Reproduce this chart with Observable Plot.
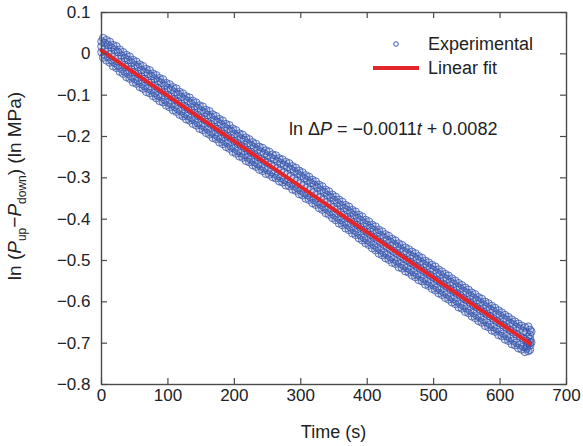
<!DOCTYPE html>
<html>
<head>
<meta charset="utf-8">
<script src="https://cdn.jsdelivr.net/npm/d3@7"></script>
<script src="https://cdn.jsdelivr.net/npm/@observablehq/plot@0.6"></script>
<style>
  html, body { margin: 0; padding: 0; background: #fff; }
  #chart { width: 583px; height: 446px; }
</style>
</head>
<body>
<div id="chart"></div>
<script>
// ---- data ----
const timeS = [0,5,10,15,20,25,30,35,40,45,50,55,60,65,70,75,80,85,90,95,100,105,110,115,120,125,130,135,140,145,150,155,160,165,170,175,180,185,190,195,200,205,210,215,220,225,230,235,240,245,250,255,260,265,270,275,280,285,290,295,300,305,310,315,320,325,330,335,340,345,350,355,360,365,370,375,380,385,390,395,400,405,410,415,420,425,430,435,440,445,450,455,460,465,470,475,480,485,490,495,500,505,510,515,520,525,530,535,540,545,550,555,560,565,570,575,580,585,590,595,600,605,610,615,620,625,630,635,640,645];
const lnUpper = [.030,.026,.021,.015,.010,.004,-.004,-.010,-.015,-.021,-.028,-.032,-.039,-.044,-.048,-.054,-.060,-.066,-.070,-.077,-.083,-.087,-.093,-.098,-.104,-.110,-.114,-.120,-.127,-.131,-.137,-.142,-.148,-.153,-.160,-.165,-.170,-.177,-.182,-.187,-.194,-.199,-.205,-.209,-.216,-.221,-.226,-.232,-.237,-.241,-.246,-.251,-.255,-.260,-.265,-.269,-.274,-.279,-.284,-.290,-.295,-.301,-.306,-.312,-.317,-.323,-.330,-.335,-.342,-.347,-.354,-.360,-.366,-.373,-.378,-.384,-.390,-.397,-.402,-.409,-.414,-.421,-.426,-.432,-.439,-.444,-.450,-.455,-.461,-.466,-.471,-.477,-.481,-.487,-.491,-.497,-.502,-.508,-.513,-.519,-.523,-.530,-.534,-.541,-.545,-.552,-.556,-.563,-.567,-.574,-.578,-.585,-.590,-.596,-.601,-.607,-.612,-.618,-.622,-.629,-.633,-.640,-.644,-.651,-.655,-.661,-.665,-.671,-.674,-.668];
const lnMid = [.018,.012,.006,.000,-.007,-.012,-.020,-.027,-.031,-.038,-.044,-.049,-.055,-.061,-.066,-.070,-.077,-.083,-.088,-.093,-.100,-.104,-.110,-.116,-.121,-.127,-.132,-.137,-.143,-.149,-.155,-.159,-.165,-.171,-.177,-.182,-.188,-.194,-.199,-.205,-.211,-.217,-.222,-.227,-.233,-.238,-.244,-.249,-.254,-.259,-.263,-.268,-.272,-.277,-.282,-.287,-.291,-.296,-.302,-.307,-.313,-.318,-.324,-.329,-.335,-.341,-.347,-.353,-.359,-.365,-.371,-.377,-.384,-.390,-.396,-.401,-.408,-.414,-.420,-.426,-.432,-.438,-.444,-.450,-.456,-.462,-.467,-.473,-.478,-.483,-.489,-.494,-.499,-.504,-.509,-.515,-.520,-.525,-.531,-.536,-.541,-.547,-.552,-.558,-.563,-.569,-.574,-.580,-.585,-.591,-.596,-.602,-.608,-.613,-.619,-.624,-.630,-.635,-.641,-.646,-.652,-.657,-.663,-.668,-.674,-.679,-.684,-.689,-.694,-.698];
const lnLower = [.004,-.002,-.008,-.016,-.022,-.029,-.036,-.043,-.048,-.055,-.061,-.066,-.073,-.078,-.084,-.088,-.095,-.101,-.105,-.111,-.118,-.122,-.128,-.134,-.139,-.145,-.150,-.155,-.161,-.167,-.173,-.177,-.183,-.190,-.195,-.200,-.206,-.212,-.217,-.224,-.229,-.235,-.240,-.245,-.251,-.256,-.262,-.267,-.272,-.277,-.281,-.286,-.290,-.295,-.300,-.305,-.309,-.314,-.320,-.325,-.331,-.336,-.342,-.347,-.353,-.359,-.365,-.371,-.377,-.383,-.390,-.396,-.402,-.408,-.414,-.420,-.427,-.432,-.439,-.445,-.451,-.456,-.463,-.469,-.475,-.481,-.486,-.492,-.497,-.502,-.508,-.513,-.518,-.523,-.528,-.534,-.539,-.544,-.550,-.555,-.560,-.566,-.571,-.577,-.582,-.588,-.593,-.599,-.605,-.610,-.616,-.621,-.627,-.633,-.638,-.644,-.650,-.655,-.661,-.666,-.672,-.677,-.683,-.688,-.694,-.699,-.704,-.709,-.713,-.716];
const timeHalf = [2.5,7.5,12.5,17.5,22.5,27.5,32.5,37.5,42.5,47.5,52.5,57.5,62.5,67.5,72.5,77.5,82.5,87.5,92.5,97.5,102.5,107.5,112.5,117.5,122.5,127.5,132.5,137.5,142.5,147.5,152.5,157.5,162.5,167.5,172.5,177.5,182.5,187.5,192.5,197.5,202.5,207.5,212.5,217.5,222.5,227.5,232.5,237.5,242.5,247.5,252.5,257.5,262.5,267.5,272.5,277.5,282.5,287.5,292.5,297.5,302.5,307.5,312.5,317.5,322.5,327.5,332.5,337.5,342.5,347.5,352.5,357.5,362.5,367.5,372.5,377.5,382.5,387.5,392.5,397.5,402.5,407.5,412.5,417.5,422.5,427.5,432.5,437.5,442.5,447.5,452.5,457.5,462.5,467.5,472.5,477.5,482.5,487.5,492.5,497.5,502.5,507.5,512.5,517.5,522.5,527.5,532.5,537.5,542.5,547.5,552.5,557.5,562.5,567.5,572.5,577.5,582.5,587.5,592.5,597.5,602.5,607.5,612.5,617.5,622.5,627.5,632.5,637.5,642.5];
const lnOuterUp = [.038,.033,.029,.021,.018,.010,.004,-.003,-.007,-.015,-.019,-.026,-.030,-.037,-.040,-.048,-.052,-.059,-.062,-.071,-.074,-.081,-.084,-.092,-.096,-.103,-.106,-.114,-.118,-.125,-.128,-.136,-.139,-.147,-.151,-.158,-.162,-.170,-.173,-.181,-.185,-.193,-.196,-.203,-.207,-.214,-.218,-.225,-.228,-.234,-.237,-.244,-.246,-.253,-.256,-.262,-.265,-.272,-.276,-.283,-.287,-.294,-.298,-.305,-.309,-.317,-.321,-.329,-.333,-.341,-.346,-.353,-.358,-.366,-.370,-.378,-.382,-.390,-.394,-.402,-.406,-.414,-.418,-.426,-.430,-.437,-.441,-.448,-.452,-.459,-.463,-.469,-.473,-.479,-.483,-.490,-.494,-.501,-.505,-.511,-.515,-.522,-.527,-.533,-.537,-.544,-.549,-.555,-.560,-.566,-.571,-.578,-.582,-.589,-.593,-.600,-.604,-.610,-.615,-.621,-.626,-.632,-.637,-.643,-.648,-.653,-.658,-.662,-.660];
const lnOuterLow = [-.009,-.016,-.021,-.030,-.034,-.043,-.048,-.056,-.060,-.069,-.072,-.080,-.084,-.092,-.095,-.102,-.107,-.114,-.117,-.125,-.129,-.136,-.140,-.147,-.151,-.158,-.161,-.169,-.173,-.181,-.184,-.191,-.195,-.203,-.206,-.214,-.218,-.225,-.229,-.237,-.241,-.248,-.251,-.259,-.262,-.269,-.273,-.280,-.283,-.290,-.292,-.298,-.301,-.308,-.311,-.318,-.320,-.328,-.331,-.339,-.342,-.350,-.353,-.361,-.365,-.373,-.377,-.385,-.389,-.397,-.402,-.410,-.414,-.422,-.426,-.434,-.438,-.446,-.451,-.458,-.462,-.470,-.475,-.483,-.487,-.494,-.498,-.505,-.508,-.516,-.519,-.526,-.529,-.536,-.540,-.547,-.550,-.558,-.561,-.568,-.572,-.579,-.583,-.590,-.594,-.601,-.605,-.613,-.616,-.624,-.627,-.635,-.639,-.646,-.650,-.658,-.661,-.669,-.672,-.680,-.683,-.691,-.694,-.702,-.705,-.712,-.715,-.721,-.719];
const endTimes = [645,645,645,642,642,640,647,647];
const endValues = [-0.680,-0.690,-0.705,-0.700,-0.685,-0.708,-0.672,-0.698];
const fitTimes = [0, 645];
const fitValues = [0.0082, -0.7013];
const xTicks = [0,100,200,300,400,500,600,700];
const yTicks = [0.1,0,-0.1,-0.2,-0.3,-0.4,-0.5,-0.6,-0.7,-0.8];

// ---- build ----
const pts = [];
timeS.forEach((t,i)=>{
  pts.push({t, v: lnUpper[i]});
  pts.push({t, v: lnMid[i]});
  pts.push({t, v: lnLower[i]});
});
timeHalf.forEach((t,i)=>{
  pts.push({t, v: lnOuterUp[i]});
  pts.push({t, v: lnOuterLow[i]});
});
endTimes.forEach((t,i)=>pts.push({t, v: endValues[i]}));
const fit = fitTimes.map((t,i)=>({t, v: fitValues[i]}));

const W = 583, H = 446, mL = 101, mR = 17, mT = 12, mB = 62;
const pw = W - mL - mR, ph = H - mT - mB;
const frameColor = "#4a4a4a";
const blue = "#3553ad";
const red = "#e4252a";
const font = "'Liberation Sans', Arial, sans-serif";
const fmtY = d => d === 0 ? "0" : d3.format(".1f")(d).replace("-", "\u2212");

const svg = Plot.plot({
  width: W, height: H,
  marginLeft: mL, marginRight: mR, marginTop: mT, marginBottom: mB,
  style: {fontFamily: font, fontSize: "17px", color: "#222", background: "#fff"},
  x: {domain: [0, 700]},
  y: {domain: [-0.8, 0.1]},
  marks: [
    Plot.dot(pts, {x: "t", y: "v", r: 3.8, stroke: blue, strokeWidth: 0.9, strokeOpacity: 0.85, fill: blue, fillOpacity: 0.14}),
    Plot.line(fit, {x: "t", y: "v", stroke: red, strokeWidth: 4}),
    Plot.frame({stroke: frameColor, strokeWidth: 1.4}),
    Plot.tickY(yTicks, {y: d => d, insetRight: pw - 6, stroke: frameColor, strokeWidth: 1.2}),
    Plot.tickY(yTicks, {y: d => d, insetLeft: pw - 6, stroke: frameColor, strokeWidth: 1.2}),
    Plot.tickX(xTicks, {x: d => d, insetTop: ph - 6, stroke: frameColor, strokeWidth: 1.2}),
    Plot.tickX(xTicks, {x: d => d, insetBottom: ph - 6, stroke: frameColor, strokeWidth: 1.2}),
    Plot.axisX({ticks: xTicks, tickSize: 0, tickPadding: 4, label: null, tickFormat: d => String(d)}),
    Plot.axisY({ticks: yTicks, tickSize: 0, tickPadding: 11, label: null, tickFormat: fmtY})
  ]
});

const s = d3.select(svg);
const g = s.append("g").attr("font-family", font).attr("fill", "#222").attr("text-anchor", "start");

// x label
g.append("text").attr("x", mL + pw / 2).attr("y", 438).attr("text-anchor", "middle")
  .attr("font-size", 18).text("Time (s)");

// y label
const yl = g.append("text").attr("transform", "translate(21,186) rotate(-90)")
  .attr("text-anchor", "middle").attr("font-size", 19);
yl.append("tspan").text("ln (");
yl.append("tspan").attr("font-style", "italic").text("P");
yl.append("tspan").attr("font-size", 12).attr("dy", 5).text("up");
yl.append("tspan").attr("dy", -5).text("\u2212");
yl.append("tspan").attr("font-style", "italic").text("P");
yl.append("tspan").attr("font-size", 12).attr("dy", 5).text("down");
yl.append("tspan").attr("dy", -5).text(") (ln MPa)");

// legend
g.append("circle").attr("cx", 396).attr("cy", 44).attr("r", 2.3)
  .attr("fill", "none").attr("stroke", blue).attr("stroke-width", 1);
g.append("text").attr("x", 428).attr("y", 50).attr("font-size", 18).text("Experimental");
g.append("line").attr("x1", 373).attr("x2", 419).attr("y1", 68).attr("y2", 68)
  .attr("stroke", red).attr("stroke-width", 4);
g.append("text").attr("x", 428).attr("y", 74).attr("font-size", 18).text("Linear fit");

// equation
const eq = g.append("text").attr("x", 289).attr("y", 135).attr("font-size", 18);
eq.append("tspan").text("ln \u0394");
eq.append("tspan").attr("font-style", "italic").text("P");
eq.append("tspan").text(" = \u22120.0011");
eq.append("tspan").attr("font-style", "italic").text("t");
eq.append("tspan").text(" + 0.0082");

document.getElementById("chart").appendChild(svg);
</script>
</body>
</html>
